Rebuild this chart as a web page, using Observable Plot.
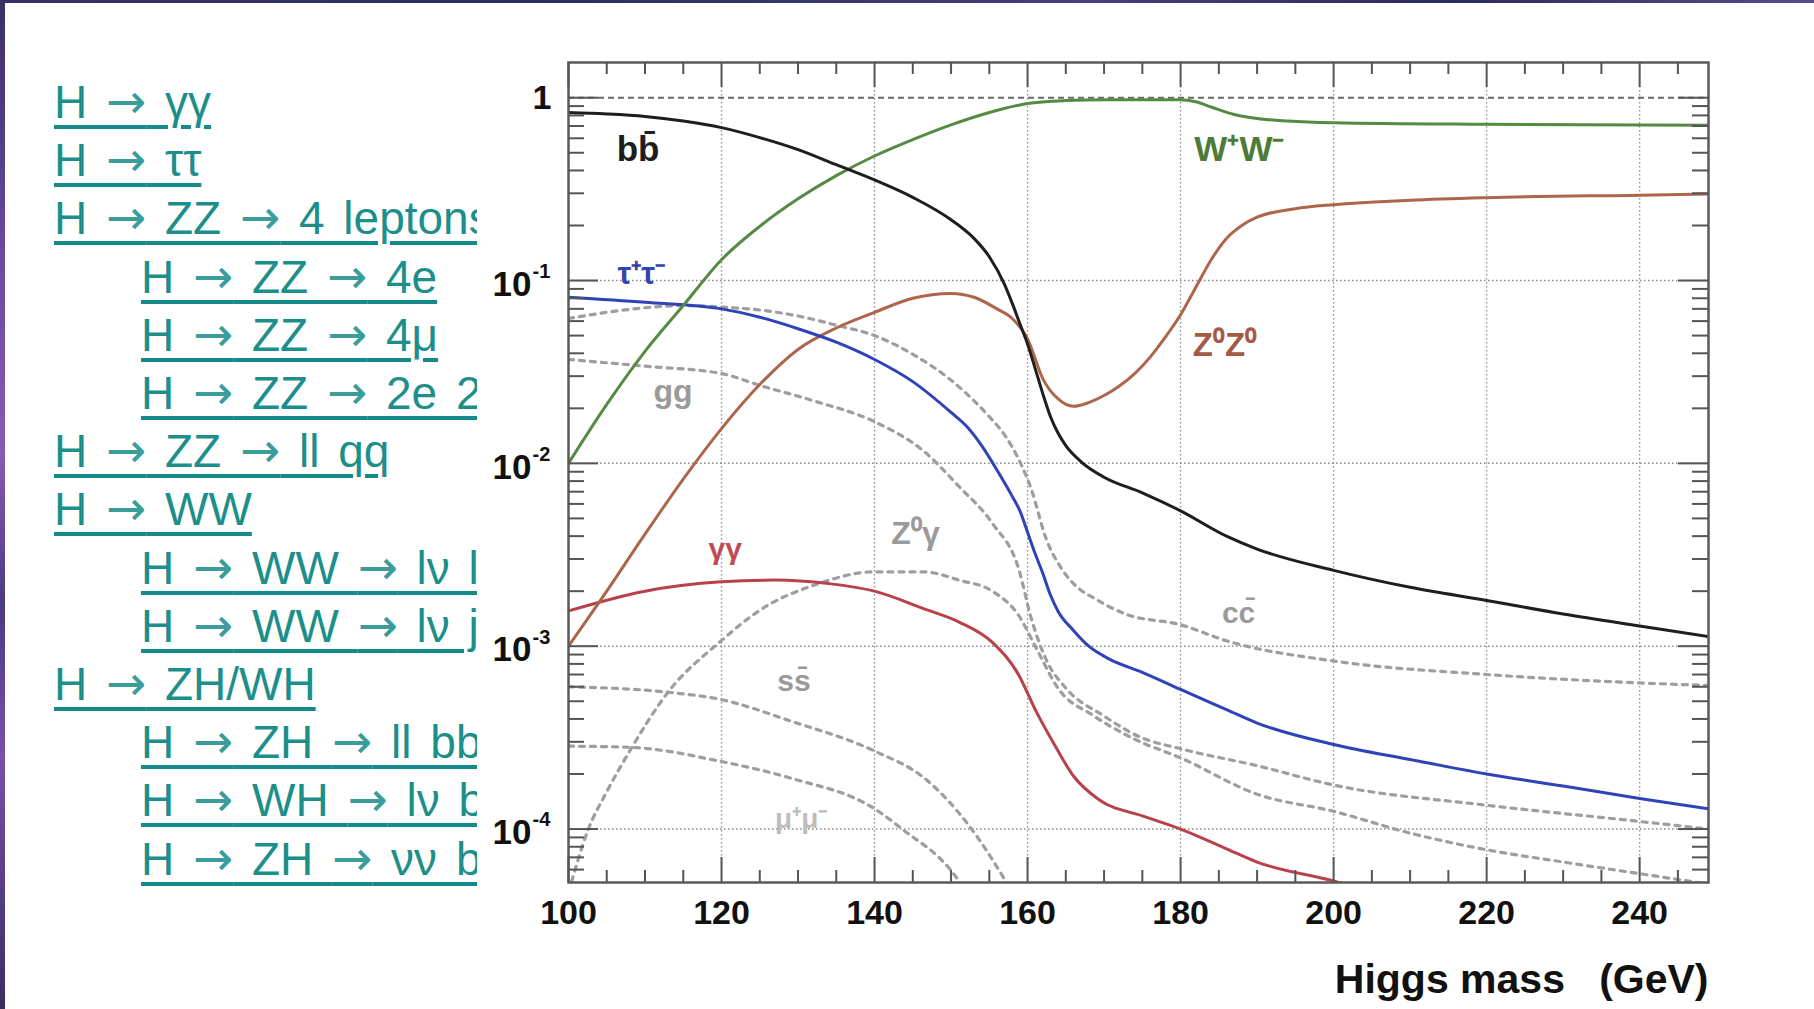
<!DOCTYPE html>
<html><head><meta charset="utf-8">
<script src="https://cdn.jsdelivr.net/npm/d3@7"></script>
<script src="https://cdn.jsdelivr.net/npm/@observablehq/plot@0.6"></script>
<style>
html,body{margin:0;padding:0;background:#fff;}
#page{position:relative;width:1814px;height:1009px;overflow:hidden;background:#fff;font-family:"Liberation Sans",Arial,Helvetica,sans-serif;}
#topbar{position:absolute;left:0;top:0;width:1814px;height:3px;background:linear-gradient(90deg,#3b2f6b,#2a2f5e 30%,#4a3c7e 60%,#2d2b5c 80%,#5a4a8e);}
#leftbar{position:absolute;left:0;top:0;width:5px;height:1009px;background:linear-gradient(180deg,#3a2f66,#6a4a9e 25%,#8a5ab0 45%,#4a3a80 60%,#7a50a8 75%,#3a2d60);}
#links{position:absolute;left:0;top:0;width:477px;height:1009px;overflow:hidden;}
.row{position:absolute;white-space:nowrap;font-size:46px;line-height:58px;word-spacing:6px;color:#1d8f8b;text-decoration:underline;text-decoration-thickness:4px;text-underline-offset:7px;text-decoration-color:#16898a;}
.arr{font-family:"DejaVu Sans",sans-serif;font-size:48px;line-height:58px;color:#3a9d9a;}
#chart{position:absolute;left:480px;top:0;}
</style></head>
<body>
<div id="page">
  <div id="links"></div>
  <div id="chart"></div>
  <div id="topbar"></div>
  <div id="leftbar"></div>
</div>
<script>
// ---- left-hand list of analysis channels ----
const linkText = [
  "H → γγ", "H → ττ", "H → ZZ → 4 leptons", "H → ZZ → 4e", "H → ZZ → 4μ", "H → ZZ → 2e 2μ",
  "H → ZZ → ll qq", "H → WW", "H → WW → lν lν", "H → WW → lν jj", "H → ZH/WH",
  "H → ZH → ll bb", "H → WH → lν bb", "H → ZH → νν bb"
];
const linkIndent = [0,0,0,1,1,1,0,0,1,1,0,1,1,1];

// ---- chart data: Higgs mass (GeV) and branching ratio ----
const bbMass = [100,105,110,115,120,125,130,135,140,145,150,153,155,157,158,159,160,161,162,163,164,165,167,170,175,180,186,190,200,210,220,230,240,249];
const bbBR   = [0.83,0.815,0.79,0.745,0.686,0.605,0.52,0.43,0.355,0.285,0.215,0.17,0.135,0.095,0.075,0.058,0.045,0.033,0.024,0.018,0.0146,0.0125,0.0102,0.0084,0.0069,0.0055,0.0040,0.0034,0.0026,0.0021,0.00178,0.0015,0.00129,0.00113];

const wwMass = [100,105,110,115,120,125,130,135,140,145,150,155,160,165,170,180,182,184,187,190,194,200,220,249];
const wwBR   = [0.0100,0.021,0.041,0.073,0.13,0.198,0.28,0.375,0.48,0.59,0.71,0.83,0.93,0.965,0.975,0.975,0.95,0.89,0.81,0.77,0.746,0.73,0.715,0.707];

const zzMass = [100,105,110,115,120,125,130,135,140,145,150,153,156,158,160,162,164,166,168,170,172,174,176,178,180,182,184,186,188,190,195,200,210,220,240,249];
const zzBR   = [0.0010,0.0020,0.0041,0.0082,0.0155,0.027,0.042,0.055,0.067,0.080,0.085,0.081,0.070,0.062,0.048,0.029,0.0225,0.0205,0.0215,0.0235,0.0265,0.031,0.038,0.049,0.065,0.092,0.13,0.17,0.20,0.222,0.247,0.26,0.275,0.284,0.293,0.297];

const tauMass = [100,110,120,125,130,135,140,145,150,152,154,156,158,159,160,161,162,163,164,166,168,170.7,175,180,186,190,200,210,220,230,240,249];
const tauBR   = [0.081,0.076,0.070,0.063,0.0545,0.046,0.037,0.028,0.0190,0.0160,0.0125,0.0092,0.0066,0.0055,0.0042,0.0032,0.0025,0.0019,0.00155,0.00122,0.00100,0.00085,0.00072,0.00058,0.00045,0.00038,0.00029,0.00024,0.0002,0.000172,0.000147,0.000129];

const aaMass = [100,110,120,127,134,140,146.5,151,155.4,158.9,161,163.3,166,169.3,175,180,186,190,200,206];
const aaBR   = [0.00156,0.0020,0.00225,0.0023,0.0022,0.0020,0.0016,0.00136,0.00105,0.00069,0.00045,0.0003,0.000195,0.000145,0.000118,0.0001,0.000078,0.000066,0.000052,0.000044];

const ggMass = [100,105,110,115,120,125,130,135,140,145,150,153,155,157,159,160.5,162.4,164.6,166.5,168.5,172.8,180,186,200,220,240,249];
const ggBR   = [0.062,0.067,0.071,0.073,0.0716,0.069,0.064,0.057,0.050,0.0395,0.0285,0.022,0.018,0.0143,0.0102,0.0072,0.0039,0.0026,0.0021,0.00185,0.0015,0.00131,0.00107,0.00083,0.0007,0.00063,0.00061];

const ccMass = [100,110,120,125,132.5,140,146.5,151,155.4,158.9,160.4,162.4,165,169.8,174.6,180,190,200,220,240,249];
const ccBR   = [0.037,0.034,0.031,0.0267,0.0217,0.0169,0.0116,0.0075,0.0047,0.0026,0.00146,0.00085,0.00059,0.00042,0.00032,0.000275,0.000222,0.000174,0.000135,0.00011,0.0001];

const zgMass = [100,102.6,105,108,113,119.6,126,132,140,146.5,151,155.4,158.9,161,164.1,168.5,174,180,190,200,210,220,230,240,249];
const zgBR   = [0.000045,0.0001,0.00016,0.000267,0.00056,0.00104,0.00167,0.00215,0.00255,0.00255,0.0023,0.002,0.00146,0.001,0.00058,0.00042,0.00031,0.000245,0.000155,0.000125,0.000095,0.000077,0.000066,0.000057,0.00005];

const ssMass = [100,113,120,129,140,146.5,152.3,157,158];
const ssBR   = [0.0006,0.00056,0.00051,0.00039,0.000267,0.00019,0.000105,0.000053,0.000045];

const mmMass = [100,108,120,129,140,143.6,150.6,152];
const mmBR   = [0.000284,0.00028,0.000234,0.00019,0.000129,0.0001,0.000055,0.000045];

// ---- axis ticks ----
const xMajor = [100,120,140,160,180,200,220,240];
const xMinor = [105,110,115,125,130,135,145,150,155,165,170,175,185,190,195,205,210,215,225,230,235,245];
const xGrid = [120,140,160,180,200,220,240];
const yDecades = [0.0001,0.001,0.01,0.1];
const yExp = ["-4","-3","-2","-1"];
const yOne = [1];
const yMinorMult = [2,3,4,5,6,7,8,9];
const yMinorBase = [0.00001,0.0001,0.001,0.01,0.1];

// ---- curve labels ----
const labelText  = ["bb\u0304","W\u207AW\u207B","Z\u2070Z\u2070","\u03C4\u207A\u03C4\u207B","gg","\u03B3\u03B3","Z\u2070\u03B3","cc\u0304","ss\u0304","\u03BC\u207A\u03BC\u207B"];
const labelMass  = [106.3,181.8,181.6,106.4,111.1,118.3,142.2,185.4,127.3,127.0];
const labelBR    = [0.52,0.52,0.044,0.109,0.0245,0.0034,0.0041,0.00152,0.00064,0.000113];
const labelColor = ["#1e1e1e","#4d7c3a","#a45a44","#3344b0","#9a9a9a","#c04a56","#9a9a9a","#9a9a9a","#9a9a9a","#bdbdbd"];
const labelSize  = [35,35,33,31,32,30,32,30,30,28];

// ---- build the list ----
const links = document.getElementById("links");
linkText.forEach((t, i) => {
  const d = document.createElement("div");
  d.className = "row";
  t.split("→").forEach((part, j) => {
    if (j > 0) {
      const a = document.createElement("span");
      a.className = "arr";
      a.textContent = "→";
      d.appendChild(a);
    }
    d.appendChild(document.createTextNode(part));
  });
  d.style.left = (linkIndent[i] ? 141 : 54) + "px";
  d.style.top = (72 + i * 58.2) + "px";
  links.appendChild(d);
});

// ---- chart ----
const W = 1334, H = 1009;
const mL = 88, mR = 106, mT = 62, mB = 127;
const plotW = W - mL - mR, plotH = H - mT - mB;
const yDomain = [0.000051, 1.558];

const rows = (m, b) => m.map((x, i) => ({m: x, br: b[i]}));
const yMinor = yMinorBase.flatMap(b => yMinorMult.map(k => k * b)).filter(v => v > yDomain[0] && v < yDomain[1]);

const dashed = {stroke: "#9e9e9e", strokeWidth: 3.2, strokeDasharray: "5,6", curve: "monotone-x", clip: true};
const solid = (c) => ({stroke: c, strokeWidth: 3, curve: "monotone-x", clip: true});
const tickStyle = {stroke: "#555", strokeWidth: 2};
const font = "'Liberation Sans', Arial, Helvetica, sans-serif";

const chart = Plot.plot({
  width: W, height: H,
  marginLeft: mL, marginRight: mR, marginTop: mT, marginBottom: mB,
  x: {domain: [100, 249], axis: null},
  y: {type: "log", domain: yDomain, axis: null},
  style: {background: "transparent", fontFamily: font, overflow: "visible"},
  marks: [
    Plot.ruleX(xGrid, {x: d => d, stroke: "#8a8a8a", strokeWidth: 1.3, strokeDasharray: "1.5,2.5"}),
    Plot.ruleY(yDecades, {y: d => d, stroke: "#8a8a8a", strokeWidth: 1.5, strokeDasharray: "1.5,2.5"}),
    Plot.ruleY(yOne, {y: d => d, stroke: "#6a6a6a", strokeWidth: 2, strokeDasharray: "6,4"}),
    Plot.line(rows(ggMass, ggBR), {x: "m", y: "br", ...dashed}),
    Plot.line(rows(ccMass, ccBR), {x: "m", y: "br", ...dashed}),
    Plot.line(rows(zgMass, zgBR), {x: "m", y: "br", ...dashed}),
    Plot.line(rows(ssMass, ssBR), {x: "m", y: "br", ...dashed}),
    Plot.line(rows(mmMass, mmBR), {x: "m", y: "br", ...dashed}),
    Plot.line(rows(aaMass, aaBR), {x: "m", y: "br", ...solid("#b8414c")}),
    Plot.line(rows(zzMass, zzBR), {x: "m", y: "br", ...solid("#ad654c")}),
    Plot.line(rows(tauMass, tauBR), {x: "m", y: "br", ...solid("#2f42b8")}),
    Plot.line(rows(wwMass, wwBR), {x: "m", y: "br", ...solid("#558a44")}),
    Plot.line(rows(bbMass, bbBR), {x: "m", y: "br", ...solid("#1e1e1e")}),
    Plot.frame({stroke: "#5a5a5a", strokeWidth: 2.5}),
    // inward ticks
    Plot.tickX(xMajor, {x: d => d, insetTop: plotH - 25, ...tickStyle}),
    Plot.tickX(xMinor, {x: d => d, insetTop: plotH - 12, ...tickStyle}),
    Plot.tickX(xMajor, {x: d => d, insetBottom: plotH - 25, ...tickStyle}),
    Plot.tickX(xMinor, {x: d => d, insetBottom: plotH - 12, ...tickStyle}),
    Plot.tickY([...yDecades, ...yOne], {y: d => d, insetRight: plotW - 30, ...tickStyle}),
    Plot.tickY(yMinor, {y: d => d, insetRight: plotW - 16, ...tickStyle}),
    Plot.tickY([...yDecades, ...yOne], {y: d => d, insetLeft: plotW - 30, ...tickStyle}),
    Plot.tickY(yMinor, {y: d => d, insetLeft: plotW - 16, ...tickStyle}),
    // tick labels
    Plot.text(xMajor, {x: d => d, text: d => String(d), frameAnchor: "bottom", dy: 31, fontSize: 34, fontWeight: "bold", fill: "#111", lineAnchor: "middle"}),
    Plot.text(yOne, {y: d => d, text: () => "1", frameAnchor: "left", dx: -17, textAnchor: "end", fontSize: 34, fontWeight: "bold", fill: "#111", lineAnchor: "middle"}),
    Plot.text(yDecades, {y: d => d, text: () => "10", frameAnchor: "left", dx: -37, dy: 4, textAnchor: "end", fontSize: 35, fontWeight: "bold", fill: "#111", lineAnchor: "middle"}),
    Plot.text(yDecades, {y: d => d, text: (d, i) => yExp[i], frameAnchor: "left", dx: -36, dy: -9, textAnchor: "start", fontSize: 20, fontWeight: "bold", fill: "#111", lineAnchor: "middle"}),
    Plot.text(["Higgs mass\u00a0\u00a0\u00a0(GeV)"], {frameAnchor: "bottom-right", dy: 97, textAnchor: "end", fontSize: 41, fontWeight: "bold", fill: "#111", lineAnchor: "middle"}),
    // curve labels
    ...labelText.map((t, i) => Plot.text([t], {x: () => labelMass[i], y: () => labelBR[i], text: d => d, fill: labelColor[i], fontSize: labelSize[i], fontWeight: "bold", textAnchor: "start", lineAnchor: "middle"}))
  ]
});
document.getElementById("chart").appendChild(chart);
</script>
</body></html>
